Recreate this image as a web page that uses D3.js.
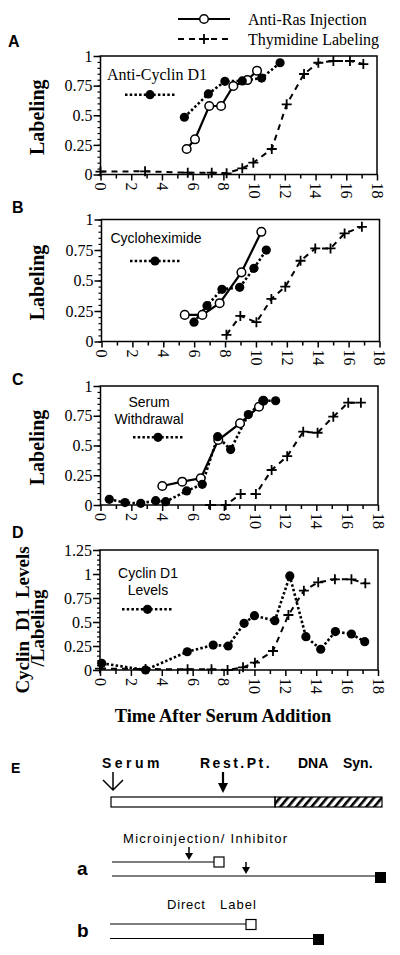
<!DOCTYPE html>
<html><head><meta charset="utf-8">
<script src="https://cdn.jsdelivr.net/npm/d3@7"></script>
<style>body{margin:0;background:#fff}svg{display:block}</style>
</head><body><svg id="c" width="400" height="955"></svg>
<script>
// ---------- DATA ----------
const xTickValues = d3.range(0, 19, 1);
const yTicksLabeling = [0, 0.25, 0.5, 0.75, 1];
const yTicksCyclin = [0, 0.25, 0.5, 0.75, 1, 1.25];

// Panel A
const aRasX = [5.61, 6.15, 7.08, 7.85, 8.65, 9.56, 10.19];
const aRasY = [0.215, 0.297, 0.578, 0.578, 0.747, 0.797, 0.876];
const aInhX = [5.46, 7.02, 8.1, 9.23, 10.49, 11.69];
const aInhY = [0.483, 0.68, 0.786, 0.79, 0.814, 0.943];
const aThyX = [0, 2.9, 5.68, 7.24, 8.21, 9.23, 9.95, 11.15, 12.12, 13.25, 14.18, 15.16, 16.24, 17.11];
const aThyY = [0.025, 0.027, 0.015, 0.015, 0.01, 0.052, 0.1, 0.215, 0.592, 0.848, 0.943, 0.958, 0.958, 0.932];

// Panel B
const bRasX = [5.39, 6.53, 7.65, 9.06, 10.35];
const bRasY = [0.218, 0.218, 0.314, 0.567, 0.899];
const bInhX = [5.99, 6.83, 7.8, 8.95, 9.87, 10.67];
const bInhY = [0.158, 0.294, 0.428, 0.444, 0.6, 0.749];
const bThyX = [8.09, 8.99, 10.03, 11.0, 11.9, 12.89, 13.84, 14.83, 15.74, 16.86];
const bThyY = [0.055, 0.21, 0.158, 0.349, 0.449, 0.662, 0.763, 0.763, 0.886, 0.94];

// Panel C
const cRasX = [4.01, 5.3, 6.5, 7.64, 9.05, 10.28, 10.56];
const cRasY = [0.16, 0.196, 0.224, 0.546, 0.686, 0.826, 0.876];
const cInhX = [0.57, 1.59, 2.61, 3.58, 4.23, 5.59, 6.6, 7.6, 8.44, 9.59, 10.56, 11.36];
const cInhY = [0.048, 0.02, 0.014, 0.036, 0.028, 0.118, 0.174, 0.574, 0.466, 0.76, 0.876, 0.876];
const cThyX = [7.11, 8.12, 9.09, 10.08, 11.1, 12.11, 13.15, 14.08, 15.1, 16.07, 16.89];
const cThyY = [0.0, 0.0, 0.092, 0.092, 0.294, 0.41, 0.616, 0.607, 0.742, 0.86, 0.86];

// Panel D
const dCycX = [0.11, 2.95, 5.65, 7.33, 8.3, 9.33, 10.0, 11.32, 12.29, 13.33, 14.29, 15.24, 16.28, 17.14];
const dCycY = [0.07, 0.0, 0.19, 0.26, 0.25, 0.486, 0.566, 0.514, 0.98, 0.347, 0.216, 0.4, 0.375, 0.295];
const dThyX = [0, 2.95, 5.67, 7.22, 8.26, 9.26, 10.03, 11.2, 12.2, 13.2, 14.13, 15.21, 16.28, 17.18];
const dThyY = [0.015, 0.01, 0.007, 0.007, 0.0, 0.028, 0.076, 0.198, 0.573, 0.826, 0.913, 0.945, 0.945, 0.903];

const legendLabels = ["Anti-Ras Injection", "Thymidine Labeling"];
const panelNotes = [["Anti-Cyclin D1"], ["Cycloheximide"], ["Serum", "Withdrawal"], ["Cyclin D1", "Levels"]];
const xTitle = "Time After Serum Addition";

// ---------- DRAW ----------
const svg = d3.select("#c");
const SERIF = "'Liberation Serif','Times New Roman',serif";
const SANS = "'Liberation Sans',Arial,Helvetica,sans-serif";
const zip = (xs, ys) => xs.map((x, i) => ({x, y: ys[i]}));

const panels = [
  {letter: "A", ly: 47, x0: 100.5, x1: 377, y0: 174.5, y1: 56, ymax: 1, ticks: yTicksLabeling,
   ras: zip(aRasX, aRasY), inh: zip(aInhX, aInhY), thy: zip(aThyX, aThyY),
   note: {font: SERIF, size: 16, x: 157, ys: [80], anchor: "middle"}, sym: {x: 125, x2: 175, y: 94.7}},
  {letter: "B", ly: 213, x0: 101.5, x1: 379.5, y0: 341.5, y1: 219.5, ymax: 1, ticks: yTicksLabeling,
   ras: zip(bRasX, bRasY), inh: zip(bInhX, bInhY), thy: zip(bThyX, bThyY),
   note: {font: SANS, size: 14, x: 156, ys: [242.5], anchor: "middle"}, sym: {x: 130, x2: 180, y: 261}},
  {letter: "C", ly: 385, x0: 100.5, x1: 378, y0: 505, y1: 386, ymax: 1, ticks: yTicksLabeling,
   ras: zip(cRasX, cRasY), inh: zip(cInhX, cInhY), thy: zip(cThyX, cThyY),
   note: {font: SANS, size: 14, x: 149, ys: [406.5, 423.5], anchor: "middle"}, sym: {x: 133, x2: 183, y: 437.3}},
  {letter: "D", ly: 538, x0: 100, x1: 378, y0: 670, y1: 550, ymax: 1.25, ticks: yTicksCyclin,
   ras: null, inh: zip(dCycX, dCycY), thy: zip(dThyX, dThyY),
   note: {font: SANS, size: 14, x: 148, ys: [578, 595], anchor: "middle"}, sym: {x: 122, x2: 173, y: 609.3}}
];

function plus(sel, x, y) {
  sel.append("path").attr("d", `M${x-5},${y}H${x+5}M${x},${y-5}V${y+5}`)
    .attr("stroke", "#000").attr("stroke-width", 1.8).attr("fill", "none");
}

panels.forEach((p, pi) => {
  const g = svg.append("g");
  const x = d3.scaleLinear().domain([0, 18]).range([p.x0, p.x1]);
  const y = d3.scaleLinear().domain([0, p.ymax]).range([p.y0, p.y1]);

  // panel letter
  svg.append("text").attr("x", pi === 0 ? 8 : 12).attr("y", p.ly).text(p.letter)
    .attr("font-family", SANS).attr("font-weight", "bold").attr("font-size", 16);

  // frame
  g.append("rect").attr("x", p.x0).attr("y", p.y1).attr("width", p.x1 - p.x0).attr("height", p.y0 - p.y1)
    .attr("fill", "none").attr("stroke", "#000").attr("stroke-width", 1.5);

  // y minor ticks
  const yMinor = d3.range(0, p.ymax + 0.001, 0.05);
  g.append("g").attr("transform", `translate(${p.x0},0)`)
    .call(d3.axisLeft(y).tickValues(yMinor).tickSize(3).tickFormat(""))
    .call(s => s.select(".domain").remove())
    .selectAll("line").attr("stroke-width", 1.2);
  // y major
  const ya = g.append("g").attr("transform", `translate(${p.x0},0)`)
    .call(d3.axisLeft(y).tickValues(p.ticks).tickSize(7).tickPadding(1).tickFormat(d => String(d)));
  ya.select(".domain").remove();
  ya.selectAll("line").attr("stroke-width", 1.5);
  ya.selectAll("text").attr("font-family", SERIF).attr("font-size", 16).attr("fill", "#000");

  // x ticks
  const xa = g.append("g").attr("transform", `translate(0,${p.y0})`)
    .call(d3.axisBottom(x).tickValues(xTickValues).tickSize(0).tickFormat(d => d % 2 === 0 ? String(d) : ""));
  xa.select(".domain").remove();
  xa.selectAll(".tick line").attr("y2", d => d % 2 === 0 ? 6 : 4).attr("stroke-width", 1.5);
  xa.selectAll("text").attr("font-family", SERIF).attr("font-size", 16).attr("fill", "#000")
    .attr("text-anchor", "start").attr("transform", "rotate(90)")
    .attr("x", 8).attr("y", 0).attr("dy", "0.35em");

  const line = d3.line().x(d => x(d.x)).y(d => y(d.y));
  // thymidine dashed
  g.append("path").datum(p.thy).attr("d", line).attr("fill", "none").attr("stroke", "#000")
    .attr("stroke-width", 2).attr("stroke-dasharray", "6,5");
  p.thy.forEach(d => plus(g, x(d.x), y(d.y)));
  // inhibitor dotted
  g.append("path").datum(p.inh).attr("d", line).attr("fill", "none").attr("stroke", "#000")
    .attr("stroke-width", 2.6).attr("stroke-dasharray", "2.5,2.2");
  if (p.ras) {
    g.append("path").datum(p.ras).attr("d", line).attr("fill", "none").attr("stroke", "#000")
      .attr("stroke-width", 2.2);
    g.selectAll(".ro").data(p.ras).join("circle").attr("cx", d => x(d.x)).attr("cy", d => y(d.y))
      .attr("r", 4.3).attr("fill", "#fff").attr("stroke", "#000").attr("stroke-width", 1.5);
  }
  g.selectAll(".fo").data(p.inh).join("circle").attr("cx", d => x(d.x)).attr("cy", d => y(d.y))
    .attr("r", 4.6).attr("fill", "#000");

  // in-panel note
  p.note.ys.forEach((yy, i) => {
    g.append("text").attr("x", p.note.x).attr("y", yy).attr("text-anchor", p.note.anchor)
      .attr("font-family", p.note.font).attr("font-size", p.note.size).text(panelNotes[pi][i]);
  });
  g.append("line").attr("x1", p.sym.x).attr("x2", p.sym.x2).attr("y1", p.sym.y).attr("y2", p.sym.y)
    .attr("stroke", "#000").attr("stroke-width", 2.6).attr("stroke-dasharray", "2.5,2.2");
  g.append("circle").attr("cx", (p.sym.x + p.sym.x2) / 2).attr("cy", p.sym.y).attr("r", 4.6).attr("fill", "#000");

  // y title
  if (pi < 3) {
    svg.append("text").attr("transform", `translate(43.5,${(p.y0 + p.y1) / 2 + 2}) rotate(-90)`)
      .attr("text-anchor", "middle").attr("font-family", SERIF).attr("font-weight", "bold")
      .attr("font-size", 20).text("Labeling");
  } else {
    svg.append("text").attr("transform", `translate(29,620) rotate(-90)`)
      .attr("text-anchor", "middle").attr("font-family", SERIF).attr("font-weight", "bold")
      .attr("font-size", 19).attr("word-spacing", 5).text("Cyclin D1 Levels");
    svg.append("text").attr("transform", `translate(44,628) rotate(-90)`)
      .attr("text-anchor", "middle").attr("font-family", SERIF).attr("font-weight", "bold")
      .attr("font-size", 19).text("/Labeling");
    svg.append("text").attr("x", 223).attr("y", 722).attr("text-anchor", "middle")
      .attr("font-family", SERIF).attr("font-weight", "bold").attr("font-size", 18.5).text(xTitle);
  }
});

// top legend
const lg = svg.append("g");
lg.append("line").attr("x1", 178).attr("x2", 230).attr("y1", 19).attr("y2", 19)
  .attr("stroke", "#000").attr("stroke-width", 2.2);
lg.append("circle").attr("cx", 204).attr("cy", 19).attr("r", 4.3).attr("fill", "#fff")
  .attr("stroke", "#000").attr("stroke-width", 1.5);
lg.append("line").attr("x1", 178).attr("x2", 230).attr("y1", 39).attr("y2", 39)
  .attr("stroke", "#000").attr("stroke-width", 2).attr("stroke-dasharray", "6,5");
plus(lg, 204, 39);
legendLabels.forEach((t, i) => lg.append("text").attr("x", 248).attr("y", 24.5 + i * 20)
  .attr("font-family", SERIF).attr("font-size", 16).text(t));

// ---------- PANEL E (schematic) ----------
const E = svg.append("g");
const defs = svg.append("defs");
const pat = defs.append("pattern").attr("id", "hatch").attr("patternUnits", "userSpaceOnUse")
  .attr("width", 6).attr("height", 6).attr("patternTransform", "rotate(40)");
pat.append("rect").attr("width", 2.6).attr("height", 6).attr("fill", "#000");

E.append("text").attr("x", 11).attr("y", 773).text("E")
  .attr("font-family", SANS).attr("font-weight", "bold").attr("font-size", 14);
const eTxt = (t, xx, yy, opts = {}) => E.append("text").attr("x", xx).attr("y", yy).text(t)
  .attr("font-family", SANS).attr("font-size", opts.size || 14)
  .attr("font-weight", opts.bold ? "bold" : "normal")
  .attr("letter-spacing", opts.ls || 0);
eTxt("Serum", 102, 768, {bold: true, ls: 3.5});
eTxt("Rest.Pt.", 200, 768, {bold: true, ls: 2.5});
eTxt("DNA", 298, 768, {bold: true});
eTxt("Syn.", 343, 768, {bold: true});

// serum open arrow
E.append("path").attr("d", "M113,772V790M103,780L113,790L123,780").attr("fill", "none")
  .attr("stroke", "#000").attr("stroke-width", 1.5);
// rest point filled arrow
E.append("path").attr("d", "M223,772V784").attr("stroke", "#000").attr("stroke-width", 2.2);
E.append("path").attr("d", "M218,783L228,783L223,793Z").attr("fill", "#000");
// bar
E.append("rect").attr("x", 111).attr("y", 797).attr("width", 164).attr("height", 10)
  .attr("fill", "#fff").attr("stroke", "#000").attr("stroke-width", 1.2);
E.append("rect").attr("x", 275).attr("y", 797).attr("width", 107).attr("height", 10)
  .attr("fill", "url(#hatch)").attr("stroke", "#000").attr("stroke-width", 1.2);

eTxt("Microinjection/ Inhibitor", 123, 843, {size: 13, ls: 1.3});
eTxt("a", 77, 875, {bold: true, size: 19});
E.append("line").attr("x1", 112).attr("x2", 214).attr("y1", 862).attr("y2", 862).attr("stroke", "#000").attr("stroke-width", 1.2);
E.append("rect").attr("x", 214).attr("y", 857).attr("width", 10).attr("height", 10).attr("fill", "#fff").attr("stroke", "#000").attr("stroke-width", 1.2);
E.append("line").attr("x1", 112).attr("x2", 375).attr("y1", 876).attr("y2", 876).attr("stroke", "#000").attr("stroke-width", 1.2);
E.append("rect").attr("x", 375).attr("y", 872).attr("width", 11).attr("height", 11).attr("fill", "#000");
const smallArrow = (ax, ay1, ay2) => {
  E.append("line").attr("x1", ax).attr("x2", ax).attr("y1", ay1).attr("y2", ay2 - 5).attr("stroke", "#000").attr("stroke-width", 1.5);
  E.append("path").attr("d", `M${ax-4},${ay2-7}L${ax+4},${ay2-7}L${ax},${ay2}Z`).attr("fill", "#000");
};
smallArrow(189, 847, 860);
smallArrow(246, 862, 874);

eTxt("Direct", 167, 909, {size: 13, ls: 0.8});
eTxt("Label", 220, 909, {size: 13, ls: 1});
eTxt("b", 77, 937, {bold: true, size: 19});
E.append("line").attr("x1", 110).attr("x2", 246).attr("y1", 924).attr("y2", 924).attr("stroke", "#000").attr("stroke-width", 1.2);
E.append("rect").attr("x", 246).attr("y", 919.5).attr("width", 10).attr("height", 10).attr("fill", "#fff").attr("stroke", "#000").attr("stroke-width", 1.2);
E.append("line").attr("x1", 110).attr("x2", 313).attr("y1", 938.5).attr("y2", 938.5).attr("stroke", "#000").attr("stroke-width", 1.2);
E.append("rect").attr("x", 313).attr("y", 934).attr("width", 11).attr("height", 11).attr("fill", "#000");
</script>
</body></html>
